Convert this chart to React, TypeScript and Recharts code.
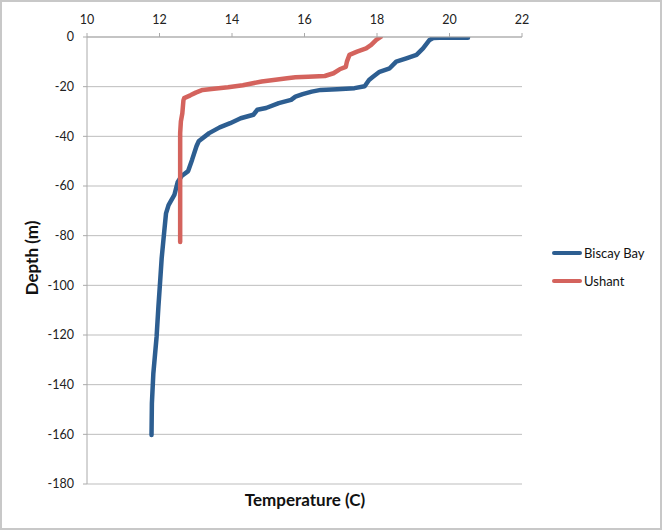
import React from "react";
import { LineChart, Line, XAxis, YAxis, CartesianGrid } from "recharts";

const FONT = "Lato, 'Open Sans', sans-serif";
const BLUE = "#2d5e91";
const RED = "#d4635d";

const tempTicks = [10, 12, 14, 16, 18, 20, 22];
const depthTicks = [0, -20, -40, -60, -80, -100, -120, -140, -160, -180];

// Biscay Bay profile, surface downwards
const biscayTemp = [
  20.51, 19.9, 19.55, 19.45, 19.27, 19.09, 18.81, 18.53, 18.35, 18.07, 17.89,
  17.78, 17.66, 17.38, 16.9, 16.45, 16.2, 15.95, 15.75, 15.63, 15.29, 14.94,
  14.7, 14.59, 14.24, 13.95, 13.66, 13.37, 13.08, 13.02, 12.9, 12.79, 12.61,
  12.5, 12.41, 12.25, 12.18, 12.13, 12.06, 12.02, 11.97, 11.92, 11.83, 11.79,
  11.78,
];
const biscayDepth = [
  -0.3, -0.2, -0.4, -1.2, -4.6, -7.2, -8.6, -9.9, -12.6, -14, -16, -17.3,
  -19.8, -20.6, -21, -21.3, -22, -23, -24, -25.3, -26.6, -28.6, -29.3, -31.3,
  -32.7, -34.7, -36.4, -38.7, -42, -44, -49.4, -54, -56, -58.5, -63.6, -67.7,
  -71, -78.4, -89.1, -97.9, -108.6, -120.7, -135.5, -147.5, -160.3,
];

// Ushant profile, surface downwards
const ushantTemp = [
  18.1, 17.98, 17.84, 17.7, 17.45, 17.24, 17.17, 17.14, 16.97, 16.8, 16.56,
  16.1, 15.75, 15.52, 15.2, 14.82, 14.3, 13.89, 13.5, 13.19, 13.0, 12.85,
  12.68, 12.66, 12.63, 12.59, 12.57, 12.57, 12.57,
];
const ushantDepth = [
  0, -1.2, -3.2, -4.6, -5.9, -7.2, -9.9, -12, -13, -14.6, -15.7, -16, -16.2,
  -16.6, -17.2, -17.9, -19.4, -20.2, -20.8, -21.3, -22.4, -23.5, -24.6, -25.5,
  -30.7, -34, -38.7, -60, -82.6,
];

const biscay = biscayTemp.map((t, i) => ({ t, d: biscayDepth[i] }));
const ushant = ushantTemp.map((t, i) => ({ t, d: ushantDepth[i] }));

const legendItems = [
  { name: "Biscay Bay", color: BLUE },
  { name: "Ushant", color: RED },
];

const tickStyle = { fontFamily: FONT, fontSize: 12.5, fill: "#222" };

export default function App() {
  return (
    <div
      style={{
        position: "absolute",
        top: 0,
        left: 0,
        width: 662,
        height: 530,
        boxSizing: "border-box",
        border: "2px solid #c8c8c8",
        background: "#fff",
      }}
    >
      <div style={{ position: "absolute", top: -2, left: -2 }}>
        <LineChart
          width={662}
          height={530}
          margin={{ top: 7, right: 140, bottom: 46, left: 27 }}
        >
          <CartesianGrid
            vertical={false}
            stroke="#bdbdbd"
            horizontalValues={depthTicks}
          />
          <XAxis
            type="number"
            dataKey="t"
            orientation="top"
            domain={[10, 22]}
            ticks={tempTicks}
            allowDataOverflow
            height={30}
            axisLine={{ stroke: "#aaa" }}
            tickLine={{ stroke: "#aaa" }}
            tickSize={4}
            tickMargin={9}
            tick={tickStyle}
          />
          <YAxis
            type="number"
            dataKey="d"
            domain={[-180, 0]}
            ticks={depthTicks}
            allowDataOverflow
            width={60}
            axisLine={{ stroke: "#aaa" }}
            tickLine={{ stroke: "#aaa" }}
            tickSize={4}
            tickMargin={9}
            tick={tickStyle}
          />
          <Line
            data={biscay}
            dataKey="d"
            name="Biscay Bay"
            stroke={BLUE}
            strokeWidth={4.5}
            strokeLinecap="round"
            strokeLinejoin="round"
            dot={false}
            type="linear"
            isAnimationActive={false}
          />
          <Line
            data={ushant}
            dataKey="d"
            name="Ushant"
            stroke={RED}
            strokeWidth={4.5}
            strokeLinecap="round"
            strokeLinejoin="round"
            dot={false}
            type="linear"
            isAnimationActive={false}
          />
        </LineChart>
      </div>
      <div
        style={{
          position: "absolute",
          left: 550,
          top: 237,
          fontFamily: FONT,
          fontSize: 13,
          color: "#111",
        }}
      >
        {legendItems.map((item) => (
          <div
            key={item.name}
            style={{ display: "flex", alignItems: "center", height: 28 }}
          >
            <div
              style={{
                width: 30,
                height: 4,
                borderRadius: 2,
                background: item.color,
                marginRight: 2,
              }}
            />
            <span>{item.name}</span>
          </div>
        ))}
      </div>
      <div
        style={{
          position: "absolute",
          left: 29,
          top: 256,
          transform: "translate(-50%, -50%) rotate(-90deg)",
          fontFamily: FONT,
          fontWeight: 700,
          fontSize: 17,
          whiteSpace: "nowrap",
          color: "#111",
        }}
      >
        Depth (m)
      </div>
      <div
        style={{
          position: "absolute",
          left: 303,
          top: 497,
          transform: "translate(-50%, -50%)",
          fontFamily: FONT,
          fontWeight: 700,
          fontSize: 17,
          whiteSpace: "nowrap",
          color: "#111",
        }}
      >
        Temperature (C)
      </div>
    </div>
  );
}
